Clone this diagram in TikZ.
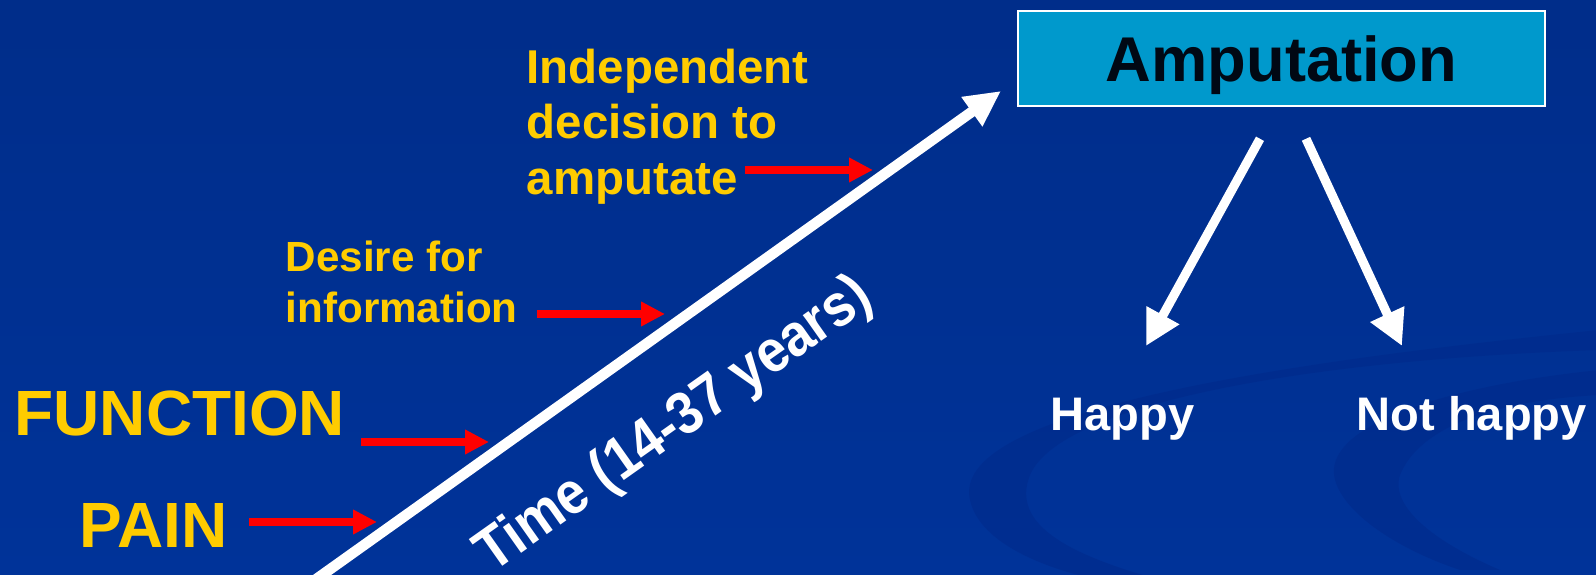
\documentclass[tikz,border=0pt]{standalone}
\usepackage{fontspec}
\setmainfont{Liberation Sans}
\usepackage{tikz}
\usetikzlibrary{arrows.meta, positioning, calc}
\definecolor{NavyTop}{HTML}{002D8A}
\definecolor{NavyLow}{HTML}{003399}
\definecolor{Swirl}{HTML}{00298A}
\definecolor{Gold}{HTML}{FFCC00}
\definecolor{Signal}{HTML}{FF0000}
\definecolor{BoxCyan}{HTML}{0099CC}
\definecolor{BoxInk}{HTML}{000814}

\begin{document}
\begin{tikzpicture}[
  yellowlabel/.style={text=Gold, font=\bfseries, inner sep=0pt, align=left},
  whitelabel/.style={text=white, font=\bfseries, inner sep=0pt},
  ampbox/.style={draw=white, line width=0.45pt, fill=BoxCyan, text=BoxInk, font=\fontsize{18}{21}\selectfont\bfseries, minimum width=5.27cm, minimum height=0.95cm, text depth=0pt, inner sep=0pt},
  redarrow/.style={-{Triangle[length=6.8pt, width=6.6pt]}, draw=Signal, line width=2.4pt},
  whitearrow/.style={-{Triangle[length=10pt, width=10pt]}, draw=white, line width=2.6pt},
  timeline/.style={-{Triangle[length=10.2pt, width=9.6pt]}, draw=white, line width=3pt}
]
% background
\shade[top color=NavyTop, bottom color=NavyLow] (0,0) rectangle (15.96,5.75);
\useasboundingbox (0,0) rectangle (15.96,5.75);
\fill[Swirl, opacity=0.55] (16.0,2.45) .. controls (12.5,2.1) and (9.5,1.6) .. (9.7,0.75)
  .. controls (9.8,0.3) and (10.5,0.05) .. (11.0,-0.05) -- (11.6,-0.05)
  .. controls (10.7,0.2) and (10.1,0.5) .. (10.3,1.0)
  .. controls (10.6,1.7) and (13.0,2.15) .. (16.0,2.25) -- cycle;
\fill[Swirl, opacity=0.55] (16.0,2.05) .. controls (14.5,1.9) and (13.2,1.5) .. (13.35,0.95)
  .. controls (13.45,0.6) and (14.0,0.25) .. (14.6,0.05) -- (15.0,0.05)
  .. controls (14.3,0.35) and (13.9,0.7) .. (14.0,1.0)
  .. controls (14.2,1.5) and (15.0,1.75) .. (16.0,1.8) -- cycle;

% labels
\node[yellowlabel, anchor=north west, font=\fontsize{13.5}{15.9}\selectfont\bfseries] (decide) at (5.26,5.27) {Independent\\decision to\\amputate};
\node[yellowlabel, anchor=north west, font=\fontsize{12}{14.5}\selectfont\bfseries] (desire) at (2.85,3.35) {Desire for\\information};
\node[yellowlabel, anchor=base west, font=\fontsize{18.2}{21}\selectfont\bfseries] (function) at (0.14,1.39) {FUNCTION};
\node[yellowlabel, anchor=base west, font=\fontsize{18.2}{21}\selectfont\bfseries] (pain) at (0.79,0.27) {PAIN};

\node[ampbox] (amp) at (12.815,5.165) {Amputation};
\node[whitelabel, anchor=base west, font=\fontsize{13.4}{16}\selectfont\bfseries] (happy) at (10.50,1.44) {Happy};
\node[whitelabel, anchor=base west, font=\fontsize{13.4}{16}\selectfont\bfseries] (nothappy) at (13.56,1.44) {Not happy};

\node[whitelabel, rotate=35.25, xscale=0.9, font=\fontsize{17}{20}\selectfont\bfseries] (timelabel) at (6.75,1.49) {Time (14-37 years)};

% time axis
\coordinate (timestart) at (2.94,-0.2);
\coordinate (timeend) at (10.01,4.84);
\draw[timeline] (timestart) -- (timeend);

% pointers to the axis
\coordinate (painfrom) at (2.49,0.53);  \coordinate (painto) at (3.77,0.53);
\coordinate (funcfrom) at (3.61,1.33);  \coordinate (functo) at (4.89,1.33);
\coordinate (desfrom) at (5.37,2.61);   \coordinate (desto) at (6.65,2.61);
\coordinate (decfrom) at (7.45,4.05);   \coordinate (decto) at (8.73,4.05);
\draw[redarrow] (painfrom) -- (painto);
\draw[redarrow] (funcfrom) -- (functo);
\draw[redarrow] (desfrom) -- (desto);
\draw[redarrow] (decfrom) -- (decto);

% outcomes
\coordinate (happytip) at (11.46,2.29);
\coordinate (nothappytip) at (14.02,2.29);
\draw[whitearrow] ([xshift=-0.215cm, yshift=-0.32cm]amp.south) -- (happytip);
\draw[whitearrow] ([xshift=0.245cm, yshift=-0.32cm]amp.south) -- (nothappytip);
\end{tikzpicture}
\end{document}
